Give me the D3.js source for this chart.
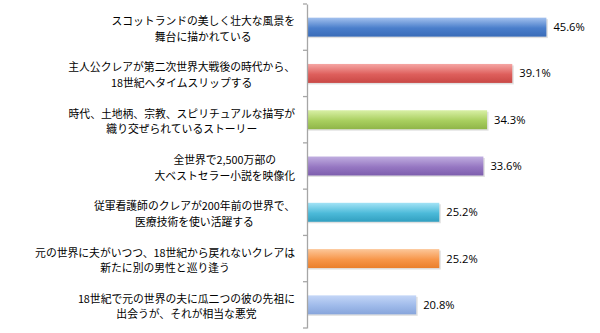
<!DOCTYPE html>
<html><head><meta charset="utf-8">
<script src="https://cdn.jsdelivr.net/npm/d3@7"></script>
<style>body{margin:0;background:#fff}svg{display:block}</style>
</head><body>
<svg id="c" width="600" height="333"></svg>
<script>
const categories = [
  ["スコットランドの美しく壮大な風景を", "舞台に描かれている"],
  ["主人公クレアが第二次世界大戦後の時代から、", "18世紀へタイムスリップする"],
  ["時代、土地柄、宗教、スピリチュアルな描写が", "織り交ぜられているストーリー"],
  ["全世界で2,500万部の", "大ベストセラー小説を映像化"],
  ["従軍看護師のクレアが200年前の世界で、", "医療技術を使い活躍する"],
  ["元の世界に夫がいつつ、18世紀から戻れないクレアは", "新たに別の男性と巡り逢う"],
  ["18世紀で元の世界の夫に瓜二つの彼の先祖に", "出会うが、それが相当な悪党"]
];
const values = [45.6, 39.1, 34.3, 33.6, 25.2, 25.2, 20.8];
const valueLabels = ["45.6%", "39.1%", "34.3%", "33.6%", "25.2%", "25.2%", "20.8%"];
const barColors = [
  ["#a3c1ee", "#4a7ecb", "#3a6cb8"],
  ["#f5a6a4", "#de5f5c", "#c94845"],
  ["#d9f0a6", "#a9cf5f", "#8fb548"],
  ["#c0aee0", "#9677c2", "#7d5ead"],
  ["#a3e3f6", "#4cbad9", "#319fc0"],
  ["#fcc79a", "#f7964a", "#ea7f2c"],
  ["#c4d6f7", "#9fbaea", "#87a5db"]
];

const svg = d3.select("#c");
const x0 = 307;
const x = d3.scaleLinear().domain([0, 50]).range([x0, x0 + 262.5]);
const y = d3.scaleBand().domain(d3.range(categories.length)).range([4, 328]).paddingInner(0.59).paddingOuter(0.295);
const yb = d3.scaleBand().domain(d3.range(categories.length)).range([4, 328]);

const defs = svg.append("defs");
barColors.forEach((c, i) => {
  const g = defs.append("linearGradient").attr("id", "g" + i).attr("x1", 0).attr("y1", 0).attr("x2", 0).attr("y2", 1);
  g.append("stop").attr("offset", "0%").attr("stop-color", c[0]);
  g.append("stop").attr("offset", "55%").attr("stop-color", c[1]);
  g.append("stop").attr("offset", "100%").attr("stop-color", c[2]);
});

// shadows
svg.selectAll("rect.sh").data(values).join("rect")
  .attr("x", x(0)).attr("y", (d, i) => y(i) + 1.5)
  .attr("width", d => x(d) - x(0) + 1.5).attr("height", y.bandwidth())
  .attr("fill", "#000").attr("opacity", 0.12);

svg.selectAll("rect.bar").data(values).join("rect")
  .attr("x", x(0)).attr("y", (d, i) => y(i))
  .attr("width", d => x(d) - x(0)).attr("height", y.bandwidth())
  .attr("fill", (d, i) => `url(#g${i})`);

// axis
const axis = d3.axisLeft(yb).tickSize(0).tickFormat("");
const ag = svg.append("g").attr("transform", `translate(${x0},0)`).call(axis);
ag.select(".domain").attr("stroke", "#a6a6a6").attr("stroke-width", 1.3);
const bounds = d3.range(categories.length + 1).map(i => 4 + i * yb.step());
ag.selectAll("line.tk").data(bounds).join("line").attr("class", "tk")
  .attr("x1", -4).attr("x2", 0).attr("y1", d => d).attr("y2", d => d)
  .attr("stroke", "#a6a6a6").attr("stroke-width", 1.3);

// category labels: block right-aligned at 295, lines centered within block
categories.forEach((lines, i) => {
  const cy = yb(i) + yb.bandwidth() / 2 + 2;
  const els = lines.map((l, k) => svg.append("text")
      .attr("font-family", "'Noto Sans CJK JP', sans-serif").attr("font-size", 10.8).attr("fill", "#000")
      .attr("text-anchor", "middle")
      .attr("y", cy + (k - (lines.length - 1) / 2) * 15.6).attr("dy", "0.35em").text(l));
  const maxW = d3.max(els, e => e.node().getComputedTextLength());
  els.forEach(e => e.attr("x", 295 - maxW / 2));
});

// value labels
svg.selectAll("text.v").data(values).join("text")
  .attr("x", d => x(d) + 7).attr("y", (d, i) => y(i) + y.bandwidth() / 2).attr("dy", "0.36em")
  .attr("font-family", "'Open Sans', 'Noto Sans', sans-serif").attr("font-size", 11.2).attr("fill", "#000")
  .text((d, i) => valueLabels[i]);
</script>
</body></html>
